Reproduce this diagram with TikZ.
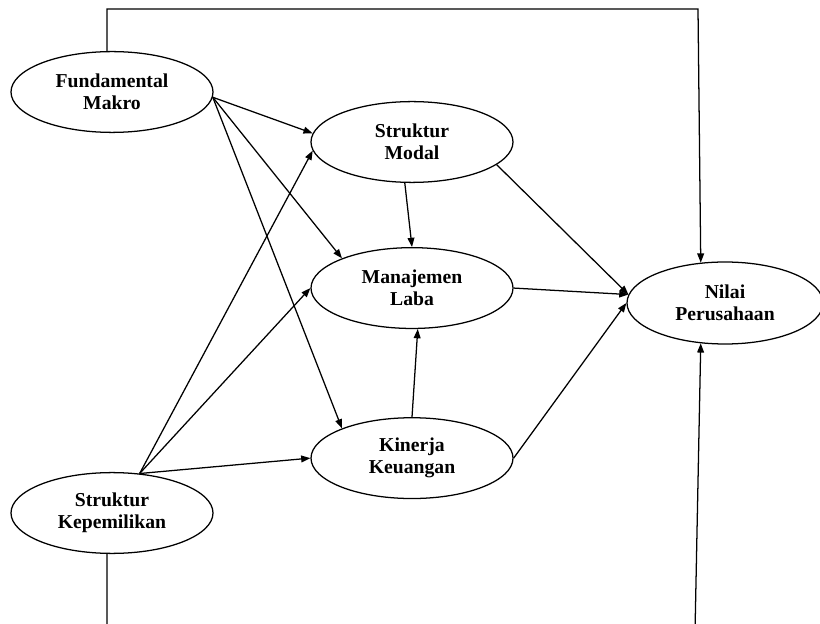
\documentclass[tikz,border=0pt]{standalone}
\usepackage{fontspec}
\setmainfont{Liberation Serif}
\usetikzlibrary{positioning, arrows.meta, shapes.geometric}

\begin{document}
\begin{tikzpicture}[
  var/.style={draw, ellipse, line width=0.9pt, inner sep=0pt,
              minimum width=5.05cm, minimum height=2.02cm, align=center,
              font=\fontsize{14}{15.5}\selectfont\bfseries},
  arr/.style={-{Triangle[length=2.3mm,width=1.7mm]}, line width=0.9pt}
]
  \clip (0,0) rectangle (20.5,-15.6);

  \node[var] (fm) at (2.8,-2.3)   {Fundamental\\Makro};
  \node[var] (sm) at (10.3,-3.55) {Struktur\\Modal};
  \node[var, below=1.6cm of sm]   (ml) {Manajemen\\Laba};
  \node[var, below=2.2cm of ml]   (kk) {Kinerja\\Keuangan};
  \node[var, minimum width=4.9cm, minimum height=2.05cm]
    (np) at (18.125,-7.575) {Nilai\\Perusahaan};
  \node[var] (sk) at (2.8,-12.825) {Struktur\\Kepemilikan};

  \coordinate (topturn) at (17.45,-0.225);
  \coordinate (botturn) at (17.375,-15.8);

  \draw[arr] (fm.-3) -- (sm.175);
  \draw[arr] (fm.-3) -- (ml.157);
  \draw[arr] (fm.-3) -- (kk.157);
  \draw[arr] (sk.55) -- (sm.185);
  \draw[arr] (sk.55) -- (ml.west);
  \draw[arr] (sk.55) -- (kk.west);
  \draw[arr] (sm.260) -- (ml.north);
  \draw[arr] (kk.north) -- (ml.-82);
  \draw[arr] (sm.-15) -- (np.175);
  \draw[arr] (ml.east) -- (np.175);
  \draw[arr] (kk.east) -- (np.180);
  \draw[arr] (fm.97) |- (topturn) -- (np.121);
  \draw[arr] (sk.-97) |- (botturn) -- (np.-121);
\end{tikzpicture}
\end{document}
